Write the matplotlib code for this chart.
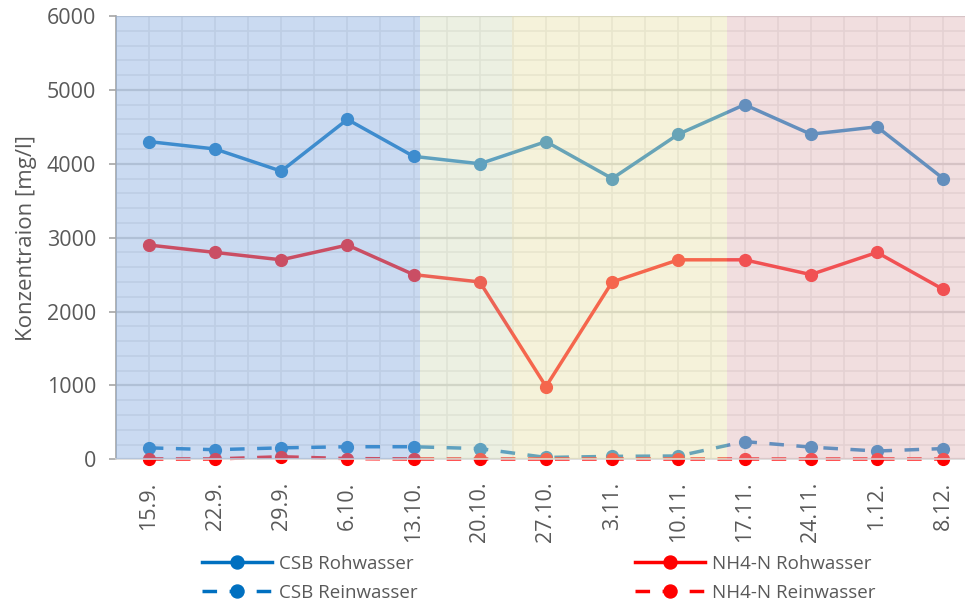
import matplotlib.pyplot as plt
from matplotlib.ticker import MultipleLocator
import numpy as np

dates = ["15.9.", "22.9.", "29.9.", "6.10.", "13.10.", "20.10.", "27.10.",
         "3.11.", "10.11.", "17.11.", "24.11.", "1.12.", "8.12."]
csb_roh = [4300, 4200, 3900, 4600, 4100, 4000, 4300, 3800, 4400, 4800, 4400, 4500, 3800]
csb_rein = [155, 130, 155, 170, 170, 145, 25, 40, 45, 240, 165, 112, 145]
nh4_roh = [2900, 2800, 2700, 2900, 2500, 2400, 985, 2400, 2700, 2700, 2500, 2800, 2300]
nh4_rein = [5, 5, 35, 10, 5, 5, 5, 5, 5, 5, 5, 5, 5]

grey = "#595959"
dash = (0, (4.2, 3.6))
x = np.arange(len(dates))

fig = plt.figure(figsize=(9.65, 6.03), dpi=100)
plt.rcParams['font.family'] = ['Open Sans', 'DejaVu Sans']
ax = fig.add_axes([0.1199, 0.2383, 0.8918, 0.7352])

ax.plot(x, csb_roh, color="#0070C0", lw=2.5, marker="o", ms=8.5, clip_on=False,
        zorder=2, label="CSB Rohwasser")
ax.plot(x, csb_rein, color="#0070C0", lw=2.5, ls=dash, marker="o", ms=8.5,
        clip_on=False, zorder=2, label="CSB Reinwasser")
ax.plot(x, nh4_roh, color="#FF0000", lw=2.5, marker="o", ms=8.5, clip_on=False,
        zorder=2, label="NH4-N Rohwasser")
ax.plot(x, nh4_rein, color="#FF0000", lw=2.5, ls=dash, marker="o", ms=8.5,
        clip_on=False, zorder=2, label="NH4-N Reinwasser")

# farbige Phasen liegen halbtransparent ueber den Linien
ax.axvspan(-0.5, 4.09, color="#8BAFE0", alpha=0.45, lw=0, zorder=3)
ax.axvspan(4.09, 5.48, color="#D5DEBF", alpha=0.45, lw=0, zorder=3)
ax.axvspan(5.48, 8.73, color="#E9E4AD", alpha=0.45, lw=0, zorder=3)
ax.axvspan(8.73, 12.5, color="#E0B6BA", alpha=0.45, lw=0, zorder=3)

ax.set_xlim(-0.5, 12.5)
ax.set_ylim(0, 6000)
ax.set_xticks(x)
ax.set_xticklabels(dates, rotation=90)
ax.set_yticks(range(0, 6001, 1000))
ax.yaxis.set_minor_locator(MultipleLocator(200))
ax.xaxis.set_minor_locator(MultipleLocator(0.5))

ax.set_axisbelow(True)
ax.grid(which="major", axis="y", color="#CFCFCF", lw=1.6)
ax.grid(which="minor", axis="y", color="#E8E8E8", lw=1.2)
ax.grid(which="both", axis="x", color="#E8E8E8", lw=1.2)

ax.tick_params(axis="y", which="major", length=5, color="#A6A6A6", width=1.2,
               labelsize=15.5, labelcolor=grey, pad=9)
ax.tick_params(axis="both", which="minor", length=0)
ax.tick_params(axis="x", which="major", length=0, pad=16, labelsize=15.5, labelcolor=grey)

for s in ["top", "right"]:
    ax.spines[s].set_visible(False)
ax.spines["left"].set_color("#A6A6A6")
ax.spines["left"].set_linewidth(1.2)
ax.spines["bottom"].set_color("#D9D9D9")
ax.spines["bottom"].set_linewidth(1.2)

ax.set_ylabel("Konzentraion [mg/l]", fontsize=16, color=grey, labelpad=7)

h, l = ax.get_legend_handles_labels()
fig.legend(h[:2], l[:2], loc="upper left", bbox_to_anchor=(0.209, 0.08),
           frameon=False, fontsize=13.5, handlelength=3.75, borderpad=0, borderaxespad=0,
           handletextpad=0.35, labelspacing=0.6, labelcolor=grey, numpoints=1,
           markerscale=1.1)
fig.legend(h[2:], l[2:], loc="upper left", bbox_to_anchor=(0.658, 0.08),
           frameon=False, fontsize=13.5, handlelength=3.75, borderpad=0, borderaxespad=0,
           handletextpad=0.35, labelspacing=0.6, labelcolor=grey, numpoints=1,
           markerscale=1.1)

fig.savefig("out.png", dpi=100)
